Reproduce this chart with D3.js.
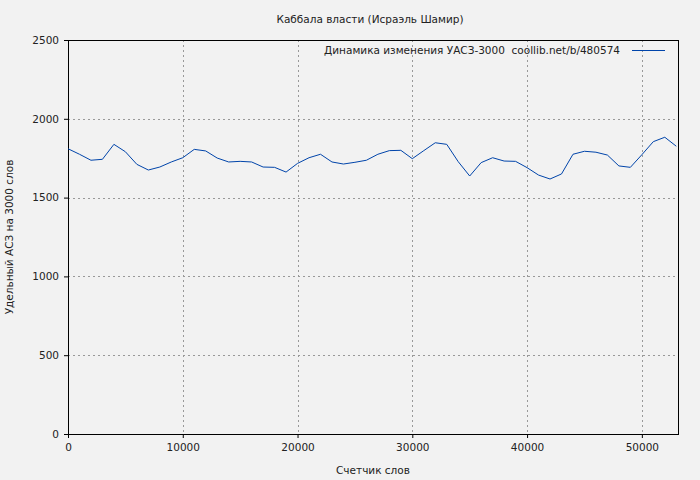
<!DOCTYPE html>
<html><head><meta charset="utf-8">
<script src="https://cdn.jsdelivr.net/npm/d3@7"></script>
<style>body{margin:0;background:#f2f2f2}svg{display:block}text{font-family:"DejaVu Sans",sans-serif;font-size:10.5px;fill:#222}</style>
</head><body><svg id="c" width="700" height="480"></svg>
<script>
const xValues = [0,1000,2000,3000,4000,5000,6000,7000,8000,9000,10000,11000,12000,13000,14000,15000,16000,17000,18000,19000,20000,21000,22000,23000,24000,25000,26000,27000,28000,29000,30000,31000,32000,33000,34000,35000,36000,37000,38000,39000,40000,41000,42000,43000,44000,45000,46000,47000,48000,49000,50000,51000,52000,53000];
const yValues = [1810,1775,1737,1743,1838,1791,1711,1675,1694,1726,1753,1806,1796,1751,1726,1730,1726,1694,1692,1662,1717,1753,1775,1726,1713,1724,1737,1775,1798,1800,1747,1798,1848,1838,1728,1637,1722,1753,1732,1730,1690,1643,1618,1650,1775,1794,1788,1770,1701,1692,1772,1855,1883,1826];
const xTicks = [0,10000,20000,30000,40000,50000];
const yTicks = [0,500,1000,1500,2000,2500];
const title = "Каббала власти (Исраэль Шамир)";
const xLabel = "Счетчик слов";
const yLabel = "Удельный АСЗ на 3000 слов";
const legendLabel = "Динамика изменения УАСЗ-3000\u00a0\u00a0coollib.net/b/480574";

const L=68,R=678,T=40,B=434;
const svg=d3.select("#c");
const x=d3.scaleLinear().domain([0,53150]).range([L,R]);
const y=d3.scaleLinear().domain([0,2500]).range([B,T]);

// grid
const g=svg.append("g");
g.selectAll("line.gx").data(xTicks.filter(d=>d>0)).enter().append("line")
 .attr("x1",d=>Math.round(x(d))+0.5).attr("x2",d=>Math.round(x(d))+0.5).attr("y1",T).attr("y2",B)
 .attr("stroke","#999").attr("stroke-dasharray","2,3");
g.selectAll("line.gy").data(yTicks.filter(d=>d>0&&d<2500)).enter().append("line")
 .attr("y1",d=>Math.round(y(d))+0.5).attr("y2",d=>Math.round(y(d))+0.5).attr("x1",L).attr("x2",R)
 .attr("stroke","#999").attr("stroke-dasharray","2,3");

// axes
const xa=svg.append("g").attr("transform",`translate(0,${B})`)
 .call(d3.axisBottom(x).tickValues(xTicks).tickSize(4).tickPadding(6).tickFormat(d3.format("d")));
const ya=svg.append("g").attr("transform",`translate(${L},0)`)
 .call(d3.axisLeft(y).tickValues(yTicks).tickSize(4).tickPadding(5).tickFormat(d3.format("d")));
[xa,ya].forEach(a=>{a.select(".domain").remove();a.selectAll("line").attr("stroke","#000");a.selectAll("text").attr("font-family","DejaVu Sans").attr("font-size","10.5px").attr("fill","#222");});

// frame
svg.append("rect").attr("x",L+0.5).attr("y",T+0.5).attr("width",R-L).attr("height",B-T)
 .attr("fill","none").attr("stroke","#000");

// line
const line=d3.line().x((d,i)=>x(xValues[i])).y(d=>y(d));
svg.append("path").datum(yValues).attr("d",line).attr("fill","none").attr("stroke","#0044aa").attr("stroke-width",1);

// texts
svg.append("text").attr("x",370).attr("y",23).attr("text-anchor","middle").text(title);
svg.append("text").attr("x",373).attr("y",474).attr("text-anchor","middle").text(xLabel);
svg.append("text").attr("transform","translate(13,237) rotate(-90)").attr("text-anchor","middle").text(yLabel);
svg.append("text").attr("x",620).attr("y",54).attr("text-anchor","end").text(legendLabel);
svg.append("line").attr("x1",632).attr("x2",665).attr("y1",50.5).attr("y2",50.5).attr("stroke","#0044aa");
</script></body></html>
